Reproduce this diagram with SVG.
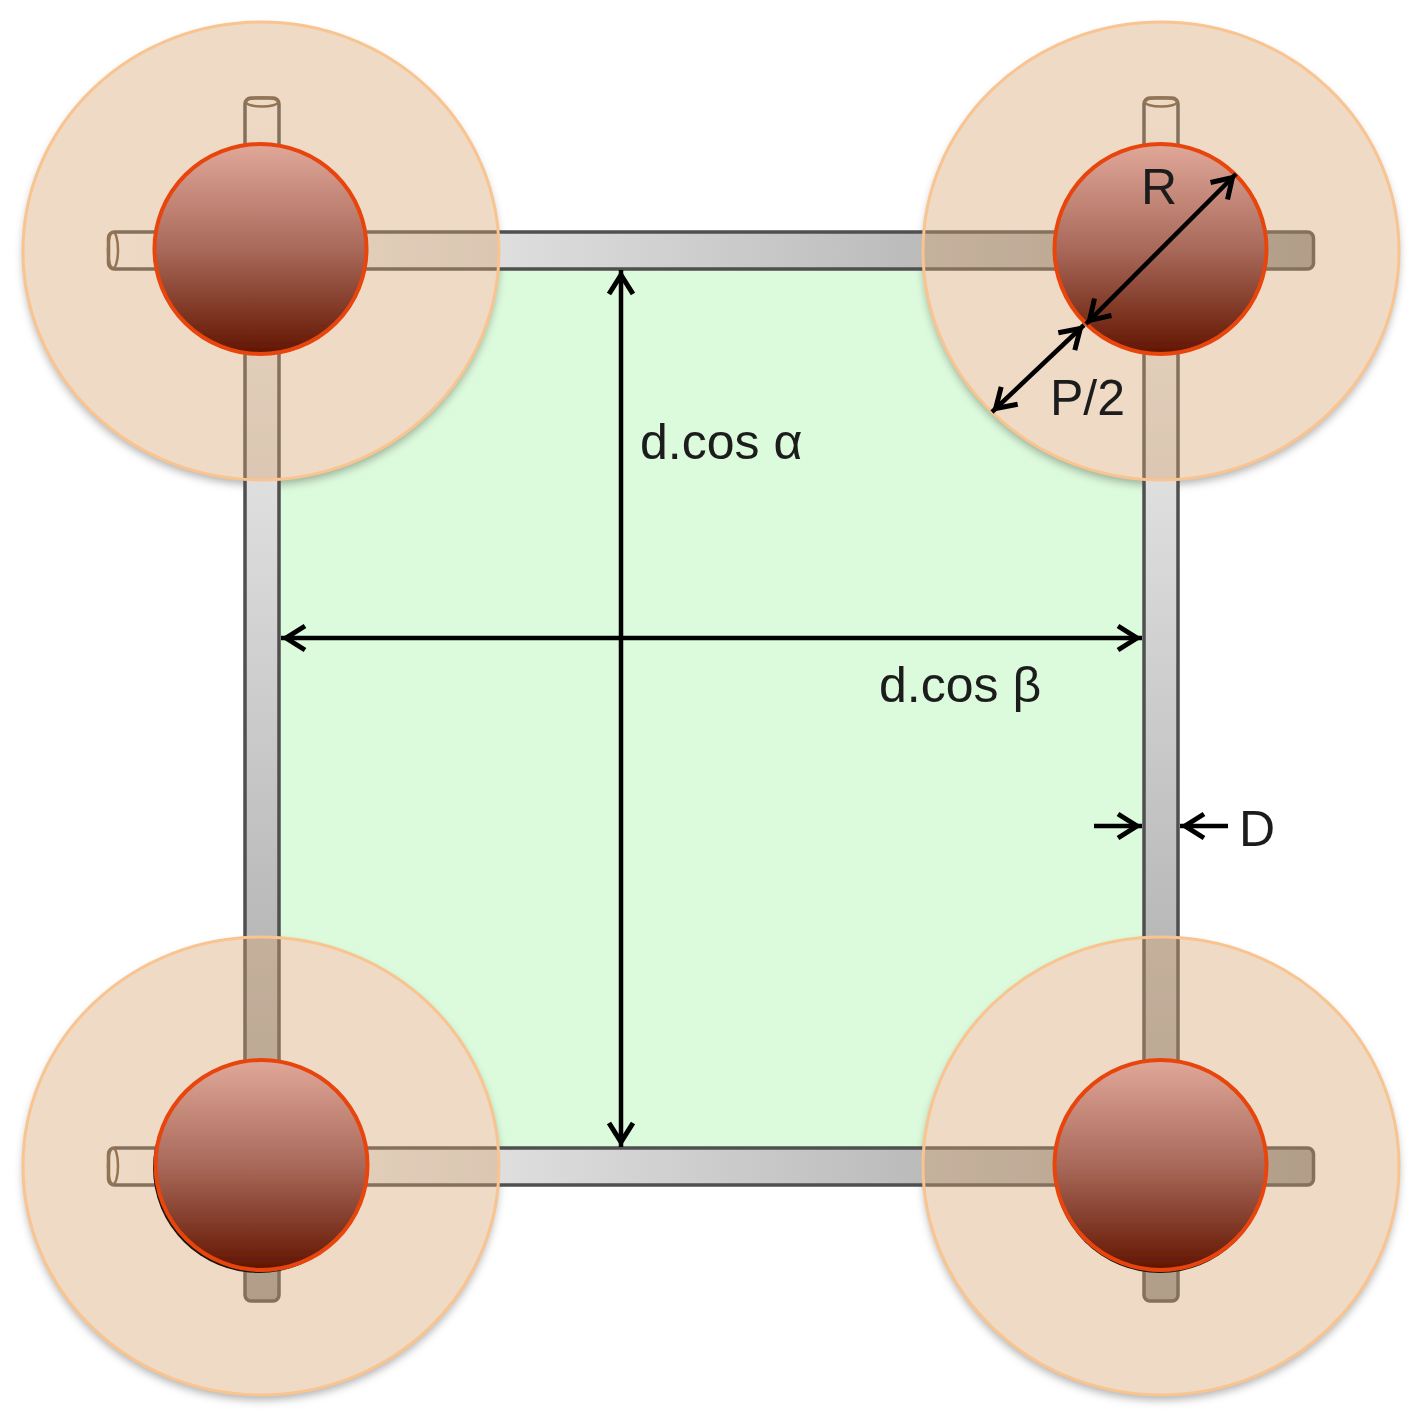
<svg xmlns="http://www.w3.org/2000/svg" width="1416" height="1419" viewBox="0 0 1416 1419">
<style>
.rod{stroke:#4f4f4f;stroke-width:3.5}
.cap{fill:none;stroke:#6b543e;stroke-width:2.5}
.halo{fill:#d4a26e;fill-opacity:.4;stroke:#f9c48f;stroke-width:3}
.base{fill:#fff}
.ball{fill:url(#ballG);stroke:#e8450f;stroke-width:4}
.under{fill:#1a1210}
.dim{fill:none;stroke:#000;stroke-width:4.5;marker-start:url(#head);marker-end:url(#head)}
.one{fill:none;stroke:#000;stroke-width:4.5;marker-end:url(#head)}
text{font-family:"Liberation Sans",Arial,sans-serif;font-size:50px;fill:#1c1c1c}
</style>
<defs>
<linearGradient id="barH" gradientUnits="userSpaceOnUse" x1="107" y1="0" x2="1315" y2="0"><stop offset="0" stop-color="#fff"/><stop offset="1" stop-color="#9a9a9a"/></linearGradient>
<linearGradient id="barV" gradientUnits="userSpaceOnUse" x1="0" y1="96" x2="0" y2="1302"><stop offset="0" stop-color="#fff"/><stop offset="1" stop-color="#9a9a9a"/></linearGradient>
<linearGradient id="ballG" x1="0" y1="0" x2="0" y2="1"><stop offset="0" stop-color="#e0a899"/><stop offset=".5" stop-color="#a9695a"/><stop offset="1" stop-color="#621500"/></linearGradient>
<filter id="soft" x="-5%" y="-5%" width="110%" height="110%"><feGaussianBlur stdDeviation=".7"/></filter>
<filter id="shadow" x="-10%" y="-10%" width="120%" height="120%"><feDropShadow dx="0" dy="5" stdDeviation="4" flood-color="#000" flood-opacity=".3"/></filter>
<marker id="head" markerUnits="userSpaceOnUse" markerWidth="44" markerHeight="44" refX="34" refY="22" orient="auto-start-reverse"><path d="M10 10 L29 22 L10 34" fill="none" stroke="#000" stroke-width="5"/></marker>
</defs>
<rect width="1416" height="1419" fill="#fff"/>
<g id="pore" filter="url(#soft)">
<rect x="279" y="269" width="865" height="879" fill="#dcfadc"/>
</g>
<g id="halo-bases">
<ellipse class="base" cx="261" cy="251" rx="238" ry="229" filter="url(#shadow)"/>
<ellipse class="base" cx="1161" cy="251" rx="238" ry="229" filter="url(#shadow)"/>
<ellipse class="base" cx="261" cy="1166" rx="238" ry="229" filter="url(#shadow)"/>
<ellipse class="base" cx="1161" cy="1166" rx="238" ry="229" filter="url(#shadow)"/>
</g>
<g id="struts" filter="url(#soft)">
<rect class="rod" x="245" y="98" width="34" height="1203" rx="6" fill="url(#barV)"/>
<rect class="rod" x="1144" y="98" width="34" height="1203" rx="6" fill="url(#barV)"/>
<rect class="rod" x="108.500" y="232" width="1205" height="37" rx="6" fill="url(#barH)"/>
<rect class="rod" x="108.500" y="1148" width="1205" height="37" rx="6" fill="url(#barH)"/>
<ellipse class="cap" cx="262" cy="102" rx="16" ry="4.500"/>
<ellipse class="cap" cx="1161" cy="102" rx="16" ry="4.500"/>
<ellipse class="cap" cx="113" cy="250" rx="5" ry="18"/>
<ellipse class="cap" cx="113" cy="1166" rx="5" ry="18"/>
</g>
<g id="halos" filter="url(#soft)">
<ellipse class="halo" cx="261" cy="251" rx="238" ry="229"/>
<ellipse class="halo" cx="1161" cy="251" rx="238" ry="229"/>
<ellipse class="halo" cx="261" cy="1166" rx="238" ry="229"/>
<ellipse class="halo" cx="1161" cy="1166" rx="238" ry="229"/>
</g>
<g id="node-tl" filter="url(#soft)"><ellipse class="ball" cx="260.500" cy="249" rx="106" ry="105"/></g>
<g id="node-tr" filter="url(#soft)"><ellipse class="ball" cx="1160.500" cy="249" rx="106" ry="105"/></g>
<g id="node-bl" filter="url(#soft)"><ellipse class="under" cx="259" cy="1168" rx="106" ry="105"/><ellipse class="ball" cx="261.500" cy="1165" rx="106" ry="105"/></g>
<g id="node-br" filter="url(#soft)"><ellipse class="under" cx="1160" cy="1168" rx="106" ry="105"/><ellipse class="ball" cx="1160.500" cy="1165" rx="106" ry="105"/></g>
<g id="connectors" filter="url(#soft)">
<line class="dim" x1="621" y1="270" x2="621" y2="1147"/>
<line class="dim" x1="281" y1="638" x2="1142" y2="638"/>
<line class="dim" x1="1086" y1="324" x2="1236" y2="174"/>
<line class="dim" x1="992" y1="412" x2="1084" y2="325"/>
<line class="one" x1="1094" y1="826" x2="1142" y2="826"/>
<line class="one" x1="1228" y1="826" x2="1180" y2="826"/>
</g>
<g id="labels" filter="url(#soft)">
<text x="640" y="459">d.cos α</text>
<text x="879" y="702">d.cos β</text>
<text x="1141" y="204">R</text>
<text x="1050" y="415">P/2</text>
<text x="1239" y="846">D</text>
</g>
</svg>
